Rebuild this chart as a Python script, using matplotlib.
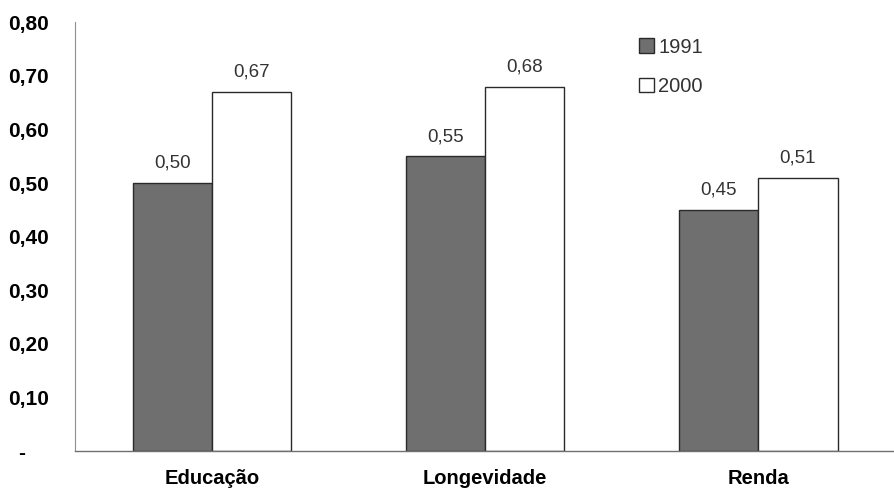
import matplotlib.pyplot as plt
import numpy as np

from matplotlib.patches import Patch

CATEGORIES = ['Educação', 'Longevidade', 'Renda']
IDH_1991 = [0.50, 0.55, 0.45]
IDH_2000 = [0.67, 0.68, 0.51]
YEARS = ['1991', '2000']
Y_TICKS = [0, 0.1, 0.2, 0.3, 0.4, 0.5, 0.6, 0.7, 0.8]

GRAY = '#6f6f6f'
EDGE = '#2a2a2a'
BAR_WIDTH = 0.29

plt.rcParams['font.family'] = ['Liberation Sans', 'DejaVu Sans']


def fmt(val):
  return f'{val:.2f}'.replace('.', ',')


def plot_chart(filename):
  fig = plt.figure(figsize=(8.95, 4.94), dpi=100)
  ax = fig.add_axes([0.084, 0.087, 0.916, 0.868])

  x = np.arange(len(CATEGORIES))
  b1 = ax.bar(x - BAR_WIDTH / 2, IDH_1991, BAR_WIDTH, color=GRAY,
              edgecolor=EDGE, linewidth=1.0)
  b2 = ax.bar(x + BAR_WIDTH / 2, IDH_2000, BAR_WIDTH, color='white',
              edgecolor=EDGE, linewidth=1.0)

  for bars, vals in ((b1, IDH_1991), (b2, IDH_2000)):
    for rect, val in zip(bars, vals):
      ax.annotate(fmt(val), (rect.get_x() + rect.get_width() / 2, val),
                  xytext=(0, 8), textcoords='offset points',
                  ha='center', va='bottom', fontsize=13.5, color='#333333')

  ax.set_xlim(-0.5, 2.5)
  ax.set_ylim(0, 0.8)
  ax.set_yticks(Y_TICKS)
  ax.set_yticklabels(['-    '] + [fmt(v) for v in Y_TICKS[1:]],
                     fontsize=15, fontweight='bold')
  ax.set_xticks(x)
  ax.set_xticklabels(CATEGORIES, fontsize=14.5, fontweight='bold')
  ax.tick_params(axis='y', length=0, pad=19)
  ax.tick_params(axis='x', length=0, pad=13)

  for side in ('top', 'right'):
    ax.spines[side].set_visible(False)
  ax.spines['left'].set_color('#909090')
  ax.spines['bottom'].set_color('#707070')
  ax.spines['left'].set_linewidth(0.8)
  ax.spines['bottom'].set_linewidth(1.0)

  handles = [Patch(facecolor=GRAY, edgecolor=EDGE),
             Patch(facecolor='white', edgecolor=EDGE)]
  fig.legend(handles, YEARS, loc='upper left', bbox_to_anchor=(0.694, 0.96),
             frameon=False, fontsize=14.5, handlelength=0.75, handleheight=0.75,
             handletextpad=0.2, labelspacing=1.0, labelcolor='#333333')

  fig.savefig(filename, dpi=100)
  plt.close(fig)


if __name__ == '__main__':
  plot_chart('out.png')
